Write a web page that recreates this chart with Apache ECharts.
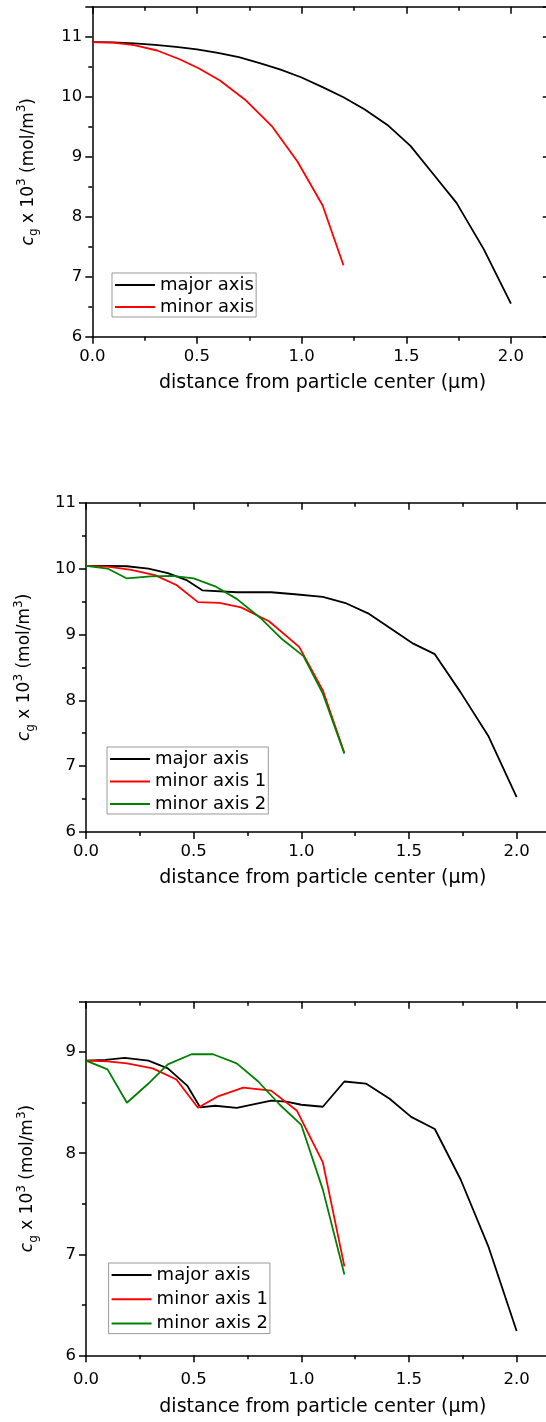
<!DOCTYPE html>
<html><head><meta charset="utf-8">
<script src="https://cdn.jsdelivr.net/npm/echarts@6/dist/echarts.min.js"></script>
<style>html,body{margin:0;padding:0;background:#fff}#c{width:546px;height:1422px}</style>
</head><body><div id="c"></div>
<script>
// ---- tick labels ----
const xTickLabels = ['0.0', '0.5', '1.0', '1.5', '2.0'];
const yTickLabels = ['6', '7', '8', '9', '10', '11'];
const xTitle = 'distance from particle center (\u03bcm)';

// ---- panel 1 ----
const p1MajorX = [0, 0.1, 0.2, 0.3, 0.4, 0.5, 0.6, 0.7, 0.8, 0.9, 1.0, 1.1, 1.2, 1.3, 1.41, 1.52, 1.62, 1.74, 1.87, 2.0];
const p1MajorY = [10.91, 10.905, 10.89, 10.865, 10.83, 10.79, 10.73, 10.66, 10.56, 10.45, 10.32, 10.16, 9.99, 9.79, 9.53, 9.18, 8.75, 8.23, 7.46, 6.55];
const p1MinorX = [0, 0.1, 0.2, 0.31, 0.42, 0.51, 0.61, 0.73, 0.86, 0.98, 1.1, 1.2];
const p1MinorY = [10.91, 10.9, 10.86, 10.77, 10.62, 10.47, 10.27, 9.95, 9.5, 8.92, 8.19, 7.19];

// ---- panel 2 ----
const p2MajorX = [0, 0.1, 0.19, 0.29, 0.38, 0.47, 0.54, 0.7, 0.86, 0.97, 1.1, 1.21, 1.31, 1.41, 1.52, 1.62, 1.74, 1.87, 2.0];
const p2MajorY = [10.04, 10.04, 10.035, 10.0, 9.93, 9.82, 9.67, 9.64, 9.64, 9.61, 9.57, 9.47, 9.32, 9.1, 8.86, 8.7, 8.12, 7.45, 6.53];
const p2Minor1X = [0, 0.1, 0.21, 0.32, 0.42, 0.52, 0.62, 0.72, 0.85, 0.99, 1.1, 1.2];
const p2Minor1Y = [10.04, 10.03, 9.98, 9.9, 9.75, 9.49, 9.48, 9.41, 9.2, 8.81, 8.15, 7.2];
const p2Minor2X = [0, 0.1, 0.19, 0.3, 0.4, 0.5, 0.6, 0.7, 0.81, 0.91, 1.01, 1.1, 1.2];
const p2Minor2Y = [10.04, 10.0, 9.85, 9.88, 9.89, 9.85, 9.73, 9.54, 9.25, 8.93, 8.67, 8.1, 7.19];

// ---- panel 3 ----
const p3MajorX = [0, 0.09, 0.18, 0.29, 0.38, 0.47, 0.53, 0.6, 0.7, 0.86, 0.93, 1.0, 1.1, 1.2, 1.3, 1.41, 1.51, 1.62, 1.74, 1.87, 2.0];
const p3MajorY = [8.917, 8.925, 8.944, 8.917, 8.84, 8.67, 8.455, 8.47, 8.45, 8.52, 8.51, 8.48, 8.46, 8.71, 8.69, 8.54, 8.36, 8.24, 7.74, 7.07, 6.24];
const p3Minor1X = [0, 0.1, 0.19, 0.31, 0.42, 0.52, 0.61, 0.73, 0.86, 0.98, 1.1, 1.2];
const p3Minor1Y = [8.917, 8.91, 8.89, 8.84, 8.73, 8.45, 8.56, 8.65, 8.62, 8.42, 7.91, 6.88];
const p3Minor2X = [0, 0.1, 0.19, 0.29, 0.38, 0.49, 0.59, 0.7, 0.8, 0.9, 1.0, 1.1, 1.2];
const p3Minor2Y = [8.917, 8.83, 8.5, 8.69, 8.88, 8.98, 8.98, 8.89, 8.71, 8.48, 8.28, 7.64, 6.8];

const FONT = 'DejaVu Sans';
const BLACK = '#000000', RED = '#ff0000', GREEN = '#008000';

function pairs(xs, ys) { return xs.map((x, i) => [x, ys[i]]); }

const panels = [
  { grid: { left: 92.3, top: 6.7, width: 460.5, height: 330 }, ymax: 11.5,
    xLabelMargin: 12, xNameGap: 37, yNameGap: 52,
    legend: { left: 112, top: 273, itemGap: 2 },
    lines: [
      { name: 'major axis', color: BLACK, data: pairs(p1MajorX, p1MajorY) },
      { name: 'minor axis', color: RED, data: pairs(p1MinorX, p1MinorY) } ] },
  { grid: { left: 86, top: 502.7, width: 473.7, height: 329.3 }, ymax: 11,
    xLabelMargin: 11, xNameGap: 37, yNameGap: 49,
    legend: { left: 107, top: 747, itemGap: 2.5 },
    lines: [
      { name: 'major axis', color: BLACK, data: pairs(p2MajorX, p2MajorY) },
      { name: 'minor axis 1', color: RED, data: pairs(p2Minor1X, p2Minor1Y) },
      { name: 'minor axis 2', color: GREEN, data: pairs(p2Minor2X, p2Minor2Y) } ] },
  { grid: { left: 86, top: 1001.7, width: 473.7, height: 353.6 }, ymax: 9.5,
    xLabelMargin: 16, xNameGap: 42, yNameGap: 46,
    legend: { left: 108.6, top: 1263, itemGap: 4.3 },
    lines: [
      { name: 'major axis', color: BLACK, data: pairs(p3MajorX, p3MajorY) },
      { name: 'minor axis 1', color: RED, data: pairs(p3Minor1X, p3Minor1Y) },
      { name: 'minor axis 2', color: GREEN, data: pairs(p3Minor2X, p3Minor2Y) } ] }
];

function fmtX(v) {
  const i = Math.round(v / 0.5);
  return (Math.abs(v - i * 0.5) < 1e-6 && i >= 0 && i < xTickLabels.length) ? xTickLabels[i] : '';
}
function fmtY(v) {
  const i = Math.round(v) - 6;
  return (Math.abs(v - Math.round(v)) < 1e-6 && i >= 0 && i < yTickLabels.length) ? yTickLabels[i] : '';
}

const lineSt = { color: BLACK, width: 1.5 };
const grid = [], xAxis = [], yAxis = [], series = [], legend = [];

panels.forEach((p, gi) => {
  grid.push(Object.assign({ containLabel: false, outerBoundsMode: 'none' }, p.grid));
  const xb = { gridIndex: gi, type: 'value', min: 0, max: 2.2, splitLine: { show: false },
    axisLine: { show: false, onZero: false }, axisLabel: { show: false } };
  const xi = xAxis.length;
  xAxis.push(Object.assign({}, xb, { position: 'bottom', interval: 0.5,
    axisLine: { show: true, onZero: false, lineStyle: lineSt },
    axisTick: { show: true, length: 7, lineStyle: lineSt },
    axisLabel: { show: true, margin: p.xLabelMargin, color: BLACK, fontFamily: FONT, fontSize: 16.5, formatter: fmtX },
    name: xTitle, nameLocation: 'middle', nameGap: p.xNameGap,
    nameTextStyle: { color: BLACK, fontFamily: FONT, fontSize: 19 } }));
  xAxis.push(Object.assign({}, xb, { position: 'bottom', interval: 0.25,
    axisTick: { show: true, length: 4, lineStyle: lineSt } }));
  xAxis.push(Object.assign({}, xb, { position: 'top', interval: 0.5,
    axisLine: { show: true, onZero: false, lineStyle: lineSt },
    axisTick: { show: true, inside: true, length: 7, lineStyle: lineSt } }));
  xAxis.push(Object.assign({}, xb, { position: 'top', interval: 0.25,
    axisTick: { show: true, inside: true, length: 4, lineStyle: lineSt } }));

  const yb = { gridIndex: gi, type: 'value', min: 6, max: p.ymax, splitLine: { show: false },
    axisLine: { show: false, onZero: false }, axisLabel: { show: false } };
  const yi = yAxis.length;
  yAxis.push(Object.assign({}, yb, { position: 'left', interval: 1,
    axisLine: { show: true, onZero: false, lineStyle: lineSt },
    axisTick: { show: true, length: 7, lineStyle: lineSt },
    axisLabel: { show: true, margin: 10, color: BLACK, fontFamily: FONT, fontSize: 16.5, formatter: fmtY },
    name: '{i|c}{sub|g}{n| x 10}{sup|3}{n| (mol/m}{sup|3}{n|)}',
    nameLocation: 'middle', nameRotate: 90, nameGap: p.yNameGap,
    nameTextStyle: { color: BLACK, fontFamily: FONT, fontSize: 17,
      rich: {
        i: { fontStyle: 'italic', fontFamily: FONT, fontSize: 17, color: BLACK, lineHeight: 24 },
        n: { fontFamily: FONT, fontSize: 17, color: BLACK, lineHeight: 24 },
        sub: { fontFamily: FONT, fontSize: 12, color: BLACK, lineHeight: 13, verticalAlign: 'bottom' },
        sup: { fontFamily: FONT, fontSize: 12, color: BLACK, lineHeight: 13, verticalAlign: 'top' }
      } } }));
  yAxis.push(Object.assign({}, yb, { position: 'left', interval: 0.5,
    axisTick: { show: true, length: 4, lineStyle: lineSt } }));
  yAxis.push(Object.assign({}, yb, { position: 'right', interval: 1,
    axisLine: { show: true, onZero: false, lineStyle: lineSt },
    axisTick: { show: true, inside: true, length: 10, lineStyle: lineSt } }));
  yAxis.push(Object.assign({}, yb, { position: 'right', interval: 0.5,
    axisTick: { show: true, inside: true, length: 4, lineStyle: lineSt } }));

  p.lines.forEach(l => {
    series.push({ type: 'line', name: l.name, xAxisIndex: xi, yAxisIndex: yi, data: l.data,
      symbol: 'none', showSymbol: false, smooth: false, color: l.color,
      lineStyle: { color: l.color, width: 1.8 }, itemStyle: { color: l.color } });
  });

  legend.push({ orient: 'vertical', left: p.legend.left, top: p.legend.top,
    data: p.lines.map(l => ({ name: l.name, icon: 'rect', itemStyle: { color: l.color } })),
    icon: 'rect', itemWidth: 40, itemHeight: 2, itemGap: p.legend.itemGap,
    padding: [2, 2, 0, 3], borderColor: '#999999', borderWidth: 1, backgroundColor: '#ffffff',
    selectedMode: false,
    textStyle: { color: BLACK, fontFamily: FONT, fontSize: 18, lineHeight: 20 } });
});

const chart = echarts.init(document.getElementById('c'), null, { renderer: 'canvas', width: 546, height: 1422 });
chart.setOption({ animation: false, backgroundColor: '#ffffff', grid, xAxis, yAxis, series, legend });
</script>
</body></html>
